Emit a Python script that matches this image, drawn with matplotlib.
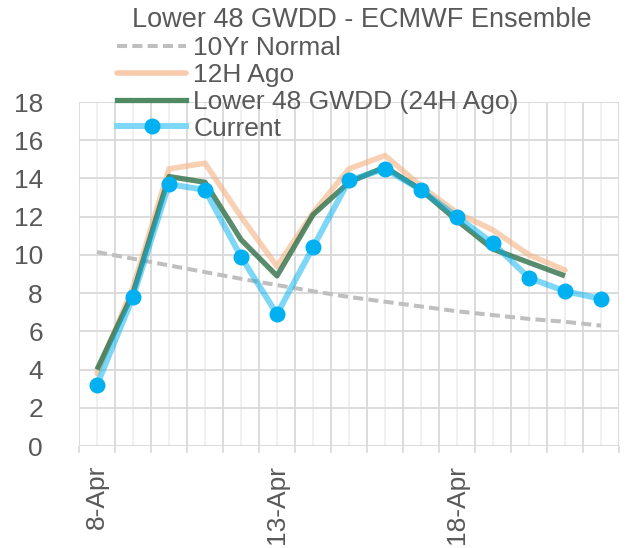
import matplotlib
matplotlib.use("Agg")
import matplotlib.pyplot as plt
import numpy as np
from matplotlib.lines import Line2D

plt.rcParams['font.family'] = ['Liberation Sans', 'DejaVu Sans']

dates = ["8-Apr", "9-Apr", "10-Apr", "11-Apr", "12-Apr", "13-Apr", "14-Apr", "15-Apr",
         "16-Apr", "17-Apr", "18-Apr", "19-Apr", "20-Apr", "21-Apr", "22-Apr"]
normal_10yr = [10.15, 9.8, 9.45, 9.1, 8.75, 8.42, 8.1, 7.8, 7.55, 7.3, 7.05, 6.85, 6.65, 6.5, 6.3]
ago_12h = [3.8, 8.3, 14.5, 14.8, 12.0, 9.4, 12.2, 14.5, 15.2, 13.6, 12.2, 11.3, 10.0, 9.2]
ago_24h = [4.0, 8.0, 14.1, 13.8, 10.8, 8.9, 12.1, 13.8, 14.6, 13.4, 11.8, 10.3, 9.6, 8.9]
current = [3.2, 7.8, 13.7, 13.4, 9.9, 6.9, 10.4, 13.9, 14.5, 13.4, 12.0, 10.6, 8.8, 8.1, 7.7]
y_ticks = [0, 2, 4, 6, 8, 10, 12, 14, 16, 18]

TXT = '#595959'
GRID = '#d9d9d9'
FS = 19

fig = plt.figure(figsize=(6.28, 5.48), dpi=100)
ax = fig.add_axes([79/628, 1-446/548, 540/628, 344/548])

x = np.arange(len(dates)) + 0.5

l1, = ax.plot(x[:len(normal_10yr)], normal_10yr, color='#bfbfbf', lw=2.9, zorder=3)
l1.set_dashes((2.5, 1.3))
l2, = ax.plot(x[:len(ago_12h)], ago_12h, color='#f4b183', alpha=0.6, lw=4.0,
              solid_capstyle='round', zorder=4)
l3, = ax.plot(x[:len(ago_24h)], ago_24h, color='#2e7047', alpha=0.8, lw=3.8,
              solid_capstyle='butt', zorder=5)
l4, = ax.plot(x[:len(current)], current, color='#00b0f0', alpha=0.5, lw=4.3, zorder=6)
m4, = ax.plot(x[:len(current)], current, 'o', color='#00b0f0', ms=11.5, mec='none', zorder=7)

ax.set_xlim(0, len(dates))
ax.set_ylim(0, 18)

ax.set_xticks(np.arange(len(dates) + 1))
ax.set_xticklabels([])
ax.set_xticks(x, minor=True)
ax.set_xticklabels([d if i % 5 == 0 else '' for i, d in enumerate(dates)], minor=True,
                   rotation=90, fontsize=FS, color=TXT)
ax.tick_params(axis='x', which='major', length=5, width=1.2, color=GRID, direction='out')
ax.tick_params(axis='x', which='minor', length=0, pad=13.5)

ax.set_yticks(y_ticks)
ax.set_yticklabels([str(v) for v in y_ticks], fontsize=FS, color=TXT)
ax.tick_params(axis='y', length=0, pad=26)

ax.grid(True, which='major', axis='both', color=GRID, lw=1.3, zorder=0)
ax.grid(True, which='minor', axis='x', color='#efefef', lw=1.3, zorder=0)
ax.set_axisbelow(True)
for s in ax.spines.values():
    s.set_visible(False)

fig.text(362/628, 1-20/548, "Lower 48 GWDD - ECMWF Ensemble", ha='center', va='center',
         fontsize=19.5, color=TXT)

h4 = Line2D([], [], color='#7fd7f7', lw=4.3, marker='o', ms=11.5, mfc='#00b0f0', mec='none')
h2 = Line2D([], [], color='#f8cbad', lw=4.0, solid_capstyle='round')
h3 = Line2D([], [], color='#4f8a62', lw=3.8)
leg = fig.legend([l1, h2, h3, h4],
                 ["10Yr Normal", "12H Ago", "Lower 48 GWDD (24H Ago)", "Current"],
                 loc='upper left', bbox_to_anchor=(117/628, 1-36/548), frameon=False,
                 fontsize=FS, handlelength=2.63, handletextpad=0.26, labelspacing=0.11,
                 borderpad=0, borderaxespad=0)
for t in leg.get_texts():
    t.set_color(TXT)

fig.savefig("out.png", dpi=100)
